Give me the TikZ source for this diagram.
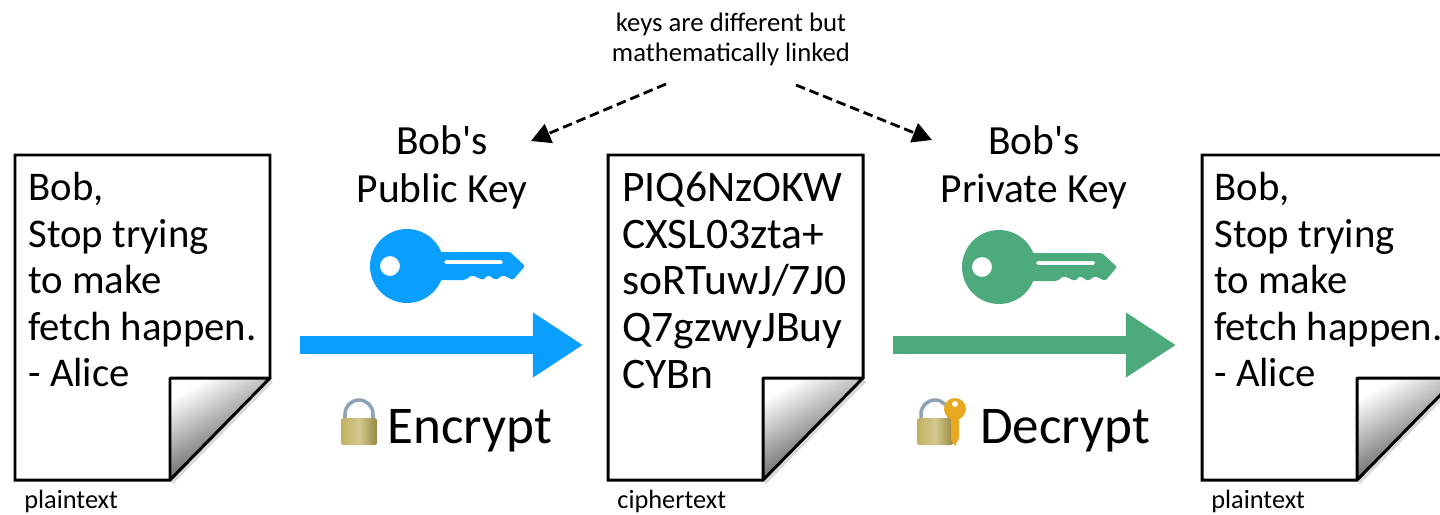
\documentclass[tikz,border=0pt]{standalone}
\usepackage{fontspec}
\setmainfont{Carlito}
\usetikzlibrary{arrows.meta}
\definecolor{pubblue}{HTML}{0A9EFF}
\definecolor{privgreen}{HTML}{4CAA7C}
\definecolor{lockgold}{HTML}{C2B060}
\definecolor{lockdark}{HTML}{978A42}
\definecolor{keygold}{HTML}{E8A820}
\definecolor{shacklegray}{HTML}{8FA3B5}
\tikzset{
    doctext/.style={anchor=north west, inner sep=0pt, align=left, font=\fontsize{23.2}{26.5}\selectfont},
    ciphertext/.style={anchor=north west, inner sep=0pt, align=left, font=\fontsize{24.8}{26.5}\selectfont},
    keylabel/.style={align=center, inner sep=0pt, font=\fontsize{23.6}{27.3}\selectfont},
    actionlabel/.style={anchor=base west, inner sep=0pt, font=\fontsize{30.2}{32}\selectfont},
    smalllabel/.style={anchor=base west, inner sep=0pt, font=\fontsize{15}{17}\selectfont},
    linkarrow/.style={line width=1.6pt, dash pattern=on 5.5pt off 2.8pt, -{Triangle[length=11pt,width=11.5pt]}},
    bigarrow/.style={line width=10.3pt, -{Triangle[length=28.5pt,width=35pt]}},
    keyicon/.pic={
        \fill[pic actions, even odd rule] (0,0) circle (37)
            (-17,0) circle (10);
        \fill[pic actions, even odd rule, rounded corners=1pt] (30,-14) -- (103,-14) -- (118,0) -- (106,14) -- (96,9) -- (89,14)
            -- (81,9) -- (76,14) -- (65,9) -- (58,14) -- (30,14) -- cycle
            (37,-6) -- (96,-6) -- (96,-2) -- (37,-2) -- cycle;
    },
    lockicon/.pic={
        \draw[line width=2pt, color=shacklegray] (-14,-17) -- (-14,-21) arc (180:360:14) -- (14,-17);
        \shade[left color=lockgold, right color=lockdark, middle color=lockgold!70!white, rounded corners=1pt] (-18,-17) rectangle (18,10);
    }
}
\begin{document}
\begin{tikzpicture}[x=0.02cm, y=-0.02cm]
    \useasboundingbox (0, 0) rectangle (1440, 514);

    % Pages
    \foreach \docx in {15, 608, 1202} {
        \draw[line width=1.7pt, fill=white, line join=miter] (\docx, 155) -- (\docx+255, 155) -- (\docx+255, 378)
            -- (\docx+155, 480) -- (\docx, 480) -- cycle;
        \fill[black!15] (\docx+255, 379) -- (\docx+258, 382) -- (\docx+158, 484) -- (\docx+155, 480) -- cycle;
        \shade[top color=white, bottom color=black!80, shading angle=30] (\docx+155, 378) -- (\docx+255, 378) -- (\docx+155, 480) -- cycle;
        \draw[line width=1.7pt, line join=round] (\docx+155, 480) -- (\docx+155, 378) -- (\docx+255, 378) -- cycle;
    }

    % Page texts
    \node[doctext] (plainin) at (28, 172) {Bob,\\Stop trying\\to make\\fetch happen.\\- Alice};
    \node[ciphertext] (cipher) at (622, 172) {PIQ6NzOKW\\CXSL03zta+\\soRTuwJ/7J0\\Q7gzwyJBuy\\CYBn};
    \node[doctext] (plainout) at (1214, 172) {Bob,\\Stop trying\\to make\\fetch happen.\\- Alice};
    \node[smalllabel] (plainlabel) at (24, 508) {plaintext};
    \node[smalllabel] (cipherlabel) at (617, 508) {ciphertext};
    \node[smalllabel] (outlabel) at (1211, 508) {plaintext};

    % Note
    \node[align=center, inner sep=0pt, font=\fontsize{15.2}{17}\selectfont] (note) at (731, 39) {keys are different but\\mathematically linked};
    \coordinate (noteleft) at (666, 84);
    \coordinate (noteright) at (796, 85);
    \coordinate (pubtip) at (531, 141);
    \coordinate (privtip) at (932, 140);
    \draw[linkarrow] (noteleft) -- (pubtip);
    \draw[linkarrow] (noteright) -- (privtip);

    % Public key side
    \node[keylabel] (publabel) at (442, 167) {Bob\textquotesingle s\\Public Key};
    \pic[fill=pubblue] (pubkey) at (407, 266) {keyicon};
    \coordinate (encstart) at (300, 345);
    \coordinate (encend) at (583, 345);
    \draw[bigarrow, pubblue] (encstart) -- (encend);
    \pic (enclock) at (359, 435) {lockicon};
    \node[actionlabel] (encrypt) at (387, 443) {Encrypt};

    % Private key side
    \node[keylabel] (privlabel) at (1034, 167) {Bob\textquotesingle s\\Private Key};
    \pic[fill=privgreen] (privkey) at (999, 267) {keyicon};
    \coordinate (decstart) at (893, 345);
    \coordinate (decend) at (1176, 345);
    \draw[bigarrow, privgreen] (decstart) -- (decend);
    \pic (declock) at (935, 435) {lockicon};
    \fill[keygold] (955, 409) circle (11);
    \fill[keygold] (951, 415) -- (959, 415) -- (959, 438) -- (955, 446) -- (951, 440) -- cycle;
    \fill[white] (955, 404) circle (3);
    \node[actionlabel] (decrypt) at (980, 443) {Decrypt};
\end{tikzpicture}
\end{document}
